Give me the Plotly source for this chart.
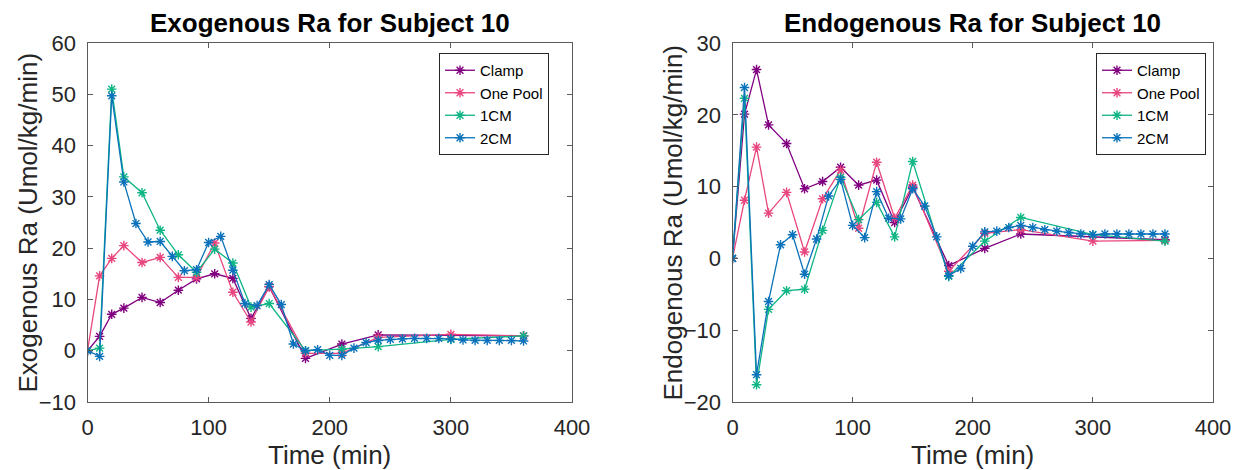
import plotly.graph_objects as go

# ---------------- data ----------------
t_clamp = [0, 10, 20, 30, 45, 60, 75, 90, 105, 120, 135, 150, 180, 210, 240, 360]
t_15 = [0, 10, 20, 30, 45, 60, 75, 90, 105, 120, 135, 150, 180, 210, 240, 300, 360]
t_10 = list(range(0, 361, 10))

# Exogenous Ra
clamp_exo = [0, 2.8, 7.1, 8.3, 10.4, 9.4, 11.8, 14.0, 15.0, 14.1, 6.3, 12.5, -1.5, 1.3, 3.1, 2.9]
onepool_exo = [0, 14.6, 18.0, 20.5, 17.2, 18.2, 14.3, 14.3, 21.0, 11.4, 5.6, 12.5, -0.5, -0.5, 2.6, 3.2, 2.9]
cm1_exo = [0, 0.5, 51.0, 33.9, 30.8, 23.5, 18.7, 15.3, 19.8, 17.1, 8.5, 9.2, 0.0, 0.3, 0.8, 2.2, 2.9]
cm2_exo = [0, -1.1, 49.7, 32.9, 24.8, 21.2, 21.3, 18.4, 15.6, 15.8, 21.1, 22.3, 15.7, 9.2, 8.8,
           12.9, 9.0, 1.3, 0.0, 0.2, -0.9, -0.9, 0.5, 1.6, 2.0, 2.2, 2.3, 2.4, 2.4, 2.4,
           2.3, 2.1, 2.0, 2.0, 2.0, 2.0, 1.9]

# Endogenous Ra
clamp_endo = [0, 20.1, 26.3, 18.6, 16.0, 9.7, 10.7, 12.7, 10.2, 10.9, 5.0, 9.9, -1.0, 1.4, 3.4, 2.6]
onepool_endo = [0, 8.1, 15.5, 6.3, 9.2, 0.9, 8.3, 12.3, 4.2, 13.4, 5.6, 10.2, -1.8, 3.5, 4.0, 2.4, 2.5]
cm1_endo = [0, 22.3, -17.6, -7.1, -4.5, -4.3, 3.9, 11.3, 5.4, 7.8, 3.0, 13.5, -2.5, 2.4, 5.7, 3.3, 2.4]
cm2_endo = [0, 23.8, -16.2, -6.0, 1.9, 3.3, -2.2, 2.7, 8.7, 11.0, 4.6, 2.9, 9.3, 5.6, 5.5,
            9.7, 7.3, 3.0, -2.4, -1.4, 1.7, 3.7, 3.8, 4.3, 4.6, 4.3, 4.0, 3.8, 3.6, 3.4,
            3.3, 3.4, 3.4, 3.4, 3.4, 3.4, 3.4]

series_names = ["Clamp", "One Pool", "1CM", "2CM"]
titles = ["Exogenous Ra for Subject 10", "Endogenous Ra for Subject 10"]
y_titles = ["Exogenous Ra (Umol/kg/min)", "Endogenous Ra (Umol/kg/min)"]
x_title = "Time (min)"

# ---------------- style ----------------
colors = ["#800080", "#E8467F", "#0FB585", "#0A72BA"]
FONT = "Liberation Sans, Arial, Helvetica, sans-serif"
TXT = "#262626"
AX = "#5a5a5a"
W, H = 1239, 470

fig = go.Figure()

left_sets = [(t_clamp, clamp_exo), (t_15, onepool_exo), (t_15, cm1_exo), (t_10, cm2_exo)]
right_sets = [(t_clamp, clamp_endo), (t_15, onepool_endo), (t_15, cm1_endo), (t_10, cm2_endo)]

for (xs, ys), name, c in zip(left_sets, series_names, colors):
    fig.add_trace(go.Scatter(
        x=xs, y=ys, mode="lines+markers", name=name, legend="legend",
        line=dict(color=c, width=1.3),
        marker=dict(symbol="asterisk-open", size=8, color=c, line=dict(color=c, width=1.4)),
        xaxis="x", yaxis="y"))
for (xs, ys), name, c in zip(right_sets, series_names, colors):
    fig.add_trace(go.Scatter(
        x=xs, y=ys, mode="lines+markers", name=name, legend="legend2",
        line=dict(color=c, width=1.3),
        marker=dict(symbol="asterisk-open", size=8, color=c, line=dict(color=c, width=1.4)),
        xaxis="x2", yaxis="y2"))

# plot area pixel geometry
L1, R1 = 87.5, 572
L2, R2 = 732.5, 1213
TOP, BOT = 43, 402
ydom = [(H - BOT) / H, (H - TOP) / H]

axis_common = dict(
    showline=True, linecolor=AX, linewidth=1, mirror="ticks",
    ticks="inside", ticklen=5, tickcolor=AX, tickwidth=1,
    showgrid=False, zeroline=False, automargin=False,
    tickfont=dict(family=FONT, size=22, color=TXT),
)

legend_common = dict(
    xanchor="right", y=(H - 53) / H, yanchor="top",
    bgcolor="white", bordercolor=TXT, borderwidth=1,
    font=dict(family=FONT, size=15, color="black"),
    itemwidth=30, tracegroupgap=0,
)

fig.update_layout(
    template="none",
    width=W, height=H, autosize=False,
    margin=dict(l=0, r=0, t=0, b=0, pad=0, autoexpand=False),
    paper_bgcolor="white", plot_bgcolor="white",
    showlegend=True,
    xaxis=dict(domain=[L1 / W, R1 / W], range=[0, 400], dtick=100, anchor="y",
               ticklabelstandoff=6, **axis_common),
    yaxis=dict(domain=ydom, range=[-10, 60], dtick=10, anchor="x",
               ticklabelstandoff=6, **axis_common),
    xaxis2=dict(domain=[L2 / W, R2 / W], range=[0, 400], dtick=100, anchor="y2",
                ticklabelstandoff=6, **axis_common),
    yaxis2=dict(domain=ydom, range=[-20, 30], dtick=10, anchor="x2",
                ticklabelstandoff=6, **axis_common),
    legend=dict(x=549 / W, **legend_common),
    legend2=dict(x=1206 / W, **legend_common),
)

annotations = []
for (l, r), title in zip([(L1, R1), (L2, R2)], titles):
    annotations.append(dict(
        text="<b>%s</b>" % title, x=(l + r) / 2 / W, y=(H - 23) / H,
        xref="paper", yref="paper", xanchor="center", yanchor="middle",
        showarrow=False, font=dict(family=FONT, size=26, color="black")))
    annotations.append(dict(
        text=x_title, x=(l + r) / 2 / W, y=(H - 455) / H,
        xref="paper", yref="paper", xanchor="center", yanchor="middle",
        showarrow=False, font=dict(family=FONT, size=26, color=TXT)))
for xc, yt in zip([27, 672], y_titles):
    annotations.append(dict(
        text=yt, x=xc / W, y=(H - (TOP + BOT) / 2) / H, textangle=-90,
        xref="paper", yref="paper", xanchor="center", yanchor="middle",
        showarrow=False, font=dict(family=FONT, size=26, color=TXT)))
fig.update_layout(annotations=annotations)

fig.write_html("out.html")
